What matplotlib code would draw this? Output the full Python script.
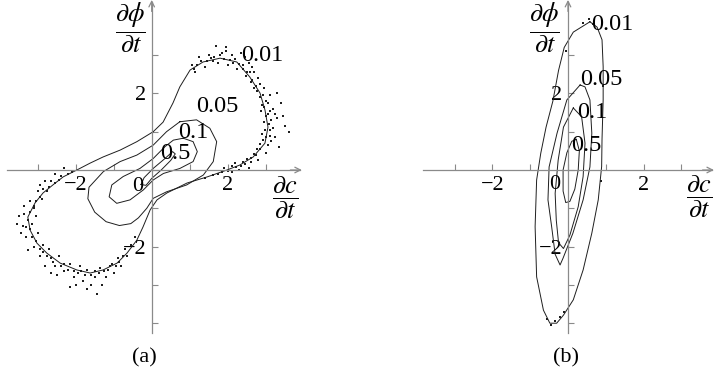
import matplotlib
matplotlib.use('Agg')
import matplotlib.pyplot as plt

plt.rcParams['font.family'] = 'serif'
plt.rcParams['font.serif'] = ['Liberation Serif', 'DejaVu Serif']
plt.rcParams['mathtext.fontset'] = 'stix'

W, H = 714, 381
AXIS_GREY = '#8a8a8a'
LINE = '#1e1e1e'

# ---- panel (a): joint pdf of dc/dt and dphi/dt, levels 0.01 / 0.05 / 0.1 / 0.5
a_levels = ['0.01', '0.05', '0.1', '0.5']
a_c001 = [(0.04, 1.00), (0.30, 1.25), (0.56, 1.75), (0.74, 2.17), (1.01, 2.61),
          (1.35, 2.82), (1.80, 2.92), (2.24, 2.82), (2.58, 2.43), (2.85, 2.01),
          (2.98, 1.57), (3.06, 1.12), (2.98, 0.70), (2.67, 0.34), (2.32, 0.13),
          (1.98, 0.00), (1.46, -0.18), (0.93, -0.34), (0.40, -0.60), (0.14, -0.78),
          (-0.04, -1.04), (-0.23, -1.49), (-0.39, -1.83), (-0.65, -2.17),
          (-0.91, -2.43), (-1.28, -2.61), (-1.62, -2.69), (-1.97, -2.61),
          (-2.41, -2.43), (-2.76, -2.17), (-3.02, -1.91), (-3.20, -1.57),
          (-3.26, -1.23), (-3.07, -0.86), (-2.86, -0.60), (-2.60, -0.39),
          (-2.33, -0.18), (-1.97, 0.00), (-1.62, 0.18), (-1.28, 0.34),
          (-0.83, 0.52), (-0.39, 0.74), (0.04, 1.00)]
a_c005 = [(0.74, 1.26), (1.18, 1.31), (1.53, 1.09), (1.71, 0.74), (1.62, 0.22),
          (1.36, -0.13), (0.92, -0.39), (0.39, -0.57), (0.04, -0.74),
          (-0.13, -1.00), (-0.35, -1.25), (-0.55, -1.40), (-0.85, -1.45),
          (-1.20, -1.35), (-1.50, -1.10), (-1.68, -0.75), (-1.65, -0.45),
          (-1.27, -0.04), (-0.83, 0.22), (-0.39, 0.39), (0.04, 0.65),
          (0.39, 1.00), (0.74, 1.26)]
a_c01 = [(0.83, 0.83), (1.09, 0.74), (1.20, 0.48), (1.09, 0.22), (0.74, 0.04),
         (0.31, -0.09), (0.04, -0.26), (-0.22, -0.52), (-0.57, -0.78),
         (-0.92, -0.87), (-1.12, -0.70), (-1.05, -0.39), (-0.75, -0.17),
         (-0.31, 0.04), (0.04, 0.30), (0.35, 0.61), (0.57, 0.78), (0.83, 0.83)]
a_c05 = [(-0.28, -0.38), (-0.20, -0.20), (0.05, 0.05), (0.35, 0.30), (0.55, 0.48),
         (0.62, 0.42), (0.50, 0.25), (0.25, 0.00), (0.00, -0.22), (-0.15, -0.40),
         (-0.28, -0.38)]
a_label_xy = [(2.90, 3.00), (1.72, 1.67), (1.09, 0.99), (0.61, 0.42)]

# scattered samples around the 0.01 level, upper-right lobe
a_dots_upper = [
    (1.05, 2.75), (1.15, 2.55), (1.25, 2.95), (1.40, 2.70), (1.50, 3.00),
    (1.60, 2.85), (1.70, 3.25), (1.75, 2.80), (1.85, 3.05), (1.95, 3.20),
    (2.00, 2.75), (2.10, 3.00), (2.20, 2.90), (2.25, 2.65), (2.35, 3.05),
    (2.40, 2.75), (2.50, 2.55), (2.55, 2.80), (2.60, 2.30), (2.70, 2.55),
    (2.75, 2.20), (2.80, 2.40), (2.85, 1.90), (2.95, 2.15), (3.00, 1.80),
    (2.90, 1.70), (3.10, 1.95), (3.20, 1.60), (3.05, 1.45), (3.15, 1.30),
    (3.40, 1.75), (3.30, 1.35), (2.95, 1.25), (3.20, 1.10), (3.50, 1.15),
    (3.45, 1.40), (3.10, 0.90), (3.25, 0.85), (2.90, 0.95), (3.05, 0.65),
    (2.85, 0.55), (3.00, 0.45), (2.75, 0.40), (2.60, 0.20), (2.80, 0.25),
    (2.45, 0.15), (2.55, 0.05), (2.30, 0.00), (2.20, 0.18), (2.10, -0.05),
    (1.90, 0.05), (1.75, -0.10), (3.35, 0.60), (3.60, 1.00),
    (1.10, 2.65), (1.20, 2.75), (1.30, 2.85), (1.45, 2.85), (1.55, 2.92),
    (1.65, 2.95), (1.80, 3.00), (1.90, 2.90), (2.05, 2.88), (2.15, 2.80),
    (2.30, 2.78), (2.40, 2.65), (2.48, 2.45), (2.58, 2.55), (2.65, 2.35),
    (2.70, 2.15), (2.78, 2.05), (2.85, 2.25), (2.92, 1.95), (2.88, 1.55),
    (2.95, 1.65), (3.05, 1.75), (3.00, 1.40), (3.10, 1.55), (3.08, 1.20),
    (2.98, 1.05), (3.12, 1.05), (3.00, 0.85), (2.92, 0.78), (2.85, 0.68),
    (2.78, 0.55), (2.68, 0.42), (2.62, 0.32), (2.50, 0.28), (2.40, 0.22),
    (2.35, 0.10), (2.22, 0.08), (2.10, 0.10), (2.00, -0.02), (1.85, -0.05),
    (1.60, -0.12), (1.40, -0.20), (3.25, 1.45), (3.30, 2.00), (3.15, 0.75),
    (2.65, 2.70), (1.95, 3.10), (2.45, 2.95)]

# lower-left lobe
a_dots_lower = [
    (-2.10, -0.05), (-2.30, 0.05), (-2.45, -0.25), (-2.55, -0.10),
    (-2.70, -0.45), (-2.80, -0.30), (-2.90, -0.75), (-3.00, -0.55),
    (-3.10, -1.00), (-3.20, -0.80), (-3.35, -1.15), (-3.05, -1.20),
    (-3.40, -1.45), (-3.15, -1.40), (-3.30, -1.75), (-3.00, -1.65),
    (-3.10, -2.00), (-2.85, -1.95), (-2.95, -2.25), (-2.70, -2.05),
    (-2.60, -2.40), (-2.80, -2.50), (-2.45, -2.25), (-2.30, -2.65),
    (-2.50, -2.75), (-2.15, -2.45), (-2.15, -3.05), (-2.05, -2.80),
    (-1.90, -2.50), (-1.80, -2.90), (-1.70, -2.60), (-1.60, -3.00),
    (-1.50, -2.80), (-1.45, -3.25), (-1.35, -2.55), (-1.20, -2.80),
    (-1.10, -2.50), (-1.00, -2.70), (-0.90, -2.30), (-0.80, -2.50),
    (-0.70, -2.05), (-0.55, -1.95), (-3.50, -1.20), (-2.95, -0.40),
    (-1.70, -3.10), (-3.25, -2.10),
    (-2.20, -0.10), (-2.40, -0.15), (-2.55, -0.35), (-2.65, -0.30),
    (-2.75, -0.55), (-2.85, -0.50), (-2.95, -0.70), (-3.05, -0.80),
    (-3.10, -0.95), (-3.20, -1.10), (-3.25, -1.30), (-3.30, -1.50),
    (-3.20, -1.55), (-3.15, -1.75), (-3.05, -1.85), (-2.95, -2.05),
    (-2.85, -2.15), (-2.75, -2.25), (-2.65, -2.30), (-2.55, -2.50),
    (-2.40, -2.50), (-2.30, -2.45), (-2.20, -2.60), (-2.05, -2.65),
    (-1.95, -2.70), (-1.85, -2.65), (-1.75, -2.75), (-1.60, -2.75),
    (-1.50, -2.65), (-1.40, -2.70), (-1.25, -2.65), (-1.15, -2.60),
    (-1.05, -2.45), (-0.95, -2.50), (-0.85, -2.40), (-0.75, -2.25),
    (-0.65, -2.25), (-0.45, -1.75), (-3.45, -1.65), (-3.35, -0.95),
    (-2.65, -2.70), (-2.00, -3.00), (-1.30, -3.00), (-3.55, -1.40)]

# ---- panel (b)
b_c001 = [(0.58, 3.87), (0.77, 3.73), (0.90, 3.40), (0.93, 2.70), (0.93, 1.83),
          (0.90, 0.80), (0.89, 0.09), (0.80, -0.78), (0.63, -1.65), (0.40, -2.61),
          (0.14, -3.39), (-0.12, -3.79), (-0.30, -4.00), (-0.48, -4.00),
          (-0.65, -3.66), (-0.83, -2.79), (-0.87, -1.48), (-0.83, -0.26),
          (-0.72, 0.44), (-0.58, 1.12), (-0.40, 1.80), (-0.25, 2.60),
          (-0.10, 3.20), (0.14, 3.60), (0.58, 3.87)]
b_c005 = [(0.32, 2.22), (0.45, 2.17), (0.58, 1.83), (0.63, 0.96), (0.58, 0.08),
          (0.40, -0.78), (0.13, -1.65), (-0.13, -2.30), (-0.21, -2.48),
          (-0.34, -2.20), (-0.43, -1.50), (-0.53, -0.78), (-0.50, 0.08),
          (-0.29, 0.96), (-0.03, 1.83), (0.32, 2.22)]
b_c01 = [(0.14, 1.62), (0.36, 1.39), (0.45, 0.70), (0.40, -0.17), (0.27, -0.96),
         (0.05, -1.70), (-0.12, -2.05), (-0.25, -1.90), (-0.31, -1.31),
         (-0.34, -0.61), (-0.26, 0.26), (-0.12, 1.12), (0.14, 1.62)]
b_c05 = [(0.22, 0.80), (0.30, 0.50), (0.27, 0.00), (0.18, -0.50), (0.05, -0.82),
         (-0.06, -0.85), (-0.13, -0.55), (-0.13, 0.00), (-0.03, 0.45),
         (0.10, 0.75), (0.22, 0.80)]
b_label_xy = [(1.16, 3.79), (0.89, 2.35), (0.63, 1.49), (0.49, 0.65)]
b_dots = [(0.55, 3.95), (0.65, 3.80), (0.40, 3.85), (-0.45, -4.05), (-0.35, -3.95),
          (-0.55, -3.90), (-0.20, -3.85), (-0.10, -3.70), (-0.05, 3.10),
          (0.92, 2.20), (0.88, -0.30)]

x_ticks = [-3, -2, -1, 0, 1, 2, 3]
x_ticklabels = ['', '\u22122', '', '', '', '2', '']
y_ticks = [-4, -3, -2, -1, 0, 1, 2, 3]
y_ticklabels = ['', '', '\u22122', '', '', '', '2', '']


def make_axes(fig, ox, oy, sx, sy, xlim, ylim):
    # axes placed so that data origin lands on pixel (ox, oy)
    left = (ox + xlim[0] * sx) / W
    width = (xlim[1] - xlim[0]) * sx / W
    bottom = (H - (oy - ylim[0] * sy)) / H
    height = (ylim[1] - ylim[0]) * sy / H
    ax = fig.add_axes([left, bottom, width, height])
    ax.set_xlim(*xlim)
    ax.set_ylim(*ylim)
    ax.patch.set_alpha(0)
    return ax


def draw_panel(ax, contours, label_xy, dots, xext, yext, xlab_xy, ylab_xy, zero_xy):
    for s in ('top', 'right'):
        ax.spines[s].set_visible(False)
    for s in ('left', 'bottom'):
        ax.spines[s].set_position(('data', 0))
        ax.spines[s].set_color(AXIS_GREY)
        ax.spines[s].set_linewidth(0.9)
    ax.spines['bottom'].set_bounds(xext[0], xext[1] - 0.05)
    ax.spines['left'].set_bounds(yext[0], yext[1] - 0.05)
    ax.annotate('', xy=(xext[1], 0), xytext=(xext[1] - 0.3, 0),
                arrowprops=dict(arrowstyle='->', color=AXIS_GREY, lw=0.9,
                                shrinkA=0, shrinkB=0), annotation_clip=False)
    ax.annotate('', xy=(0, yext[1]), xytext=(0, yext[1] - 0.3),
                arrowprops=dict(arrowstyle='->', color=AXIS_GREY, lw=0.9,
                                shrinkA=0, shrinkB=0), annotation_clip=False)

    ax.set_xticks(x_ticks)
    ax.set_xticklabels(x_ticklabels)
    ax.set_yticks(y_ticks)
    ax.set_yticklabels(y_ticklabels)
    ax.tick_params(direction='in', length=4, width=0.8, color=AXIS_GREY,
                   labelsize=16, labelcolor='black')
    ax.tick_params(axis='x', pad=4)
    ax.tick_params(axis='y', pad=4)
    ax.text(zero_xy[0], zero_xy[1], '0', fontsize=16, ha='center', va='center')

    for pts in contours:
        xs, ys = zip(*pts)
        ax.plot(xs, ys, color=LINE, lw=0.7)
    if dots:
        dx, dy = zip(*dots)
        ax.plot(dx, dy, ls='none', marker='s', ms=2.1, mew=0, color=LINE)
    for txt, (x, y) in zip(a_levels, label_xy):
        ax.text(x, y, txt, fontsize=17.5, ha='center', va='center')

    ax.text(ylab_xy[0], ylab_xy[1], r'$\dfrac{\partial\phi}{\partial t}$',
            fontsize=19, ha='center', va='center')
    ax.text(xlab_xy[0], xlab_xy[1], r'$\dfrac{\partial c}{\partial t}$',
            fontsize=19, ha='center', va='center', clip_on=False)


fig = plt.figure(figsize=(W / 100, H / 100), dpi=100)

ax_a = make_axes(fig, 151.7, 170, 38.0, 38.3, (-3.95, 4.0), (-4.4, 4.44))
draw_panel(ax_a, [a_c001, a_c005, a_c01, a_c05], a_label_xy,
           a_dots_upper + a_dots_lower,
           (-3.8, 3.95), (-4.26, 4.44), (3.51, -0.73), (-0.57, 3.71),
           (-0.36, -0.44))

ax_b = make_axes(fig, 568, 170, 37.8, 38.3, (-3.9, 3.9), (-4.4, 4.44))
draw_panel(ax_b, [b_c001, b_c005, b_c01, b_c05], b_label_xy, b_dots,
           (-3.83, 3.86), (-4.26, 4.44), (3.47, -0.70), (-0.61, 3.71),
           (-0.34, -0.39))

fig.text(144 / W, 1 - 358 / H, '(a)', fontsize=16, ha='center', va='center')
fig.text(566 / W, 1 - 358 / H, '(b)', fontsize=16, ha='center', va='center')

fig.savefig('out.png', dpi=100)
